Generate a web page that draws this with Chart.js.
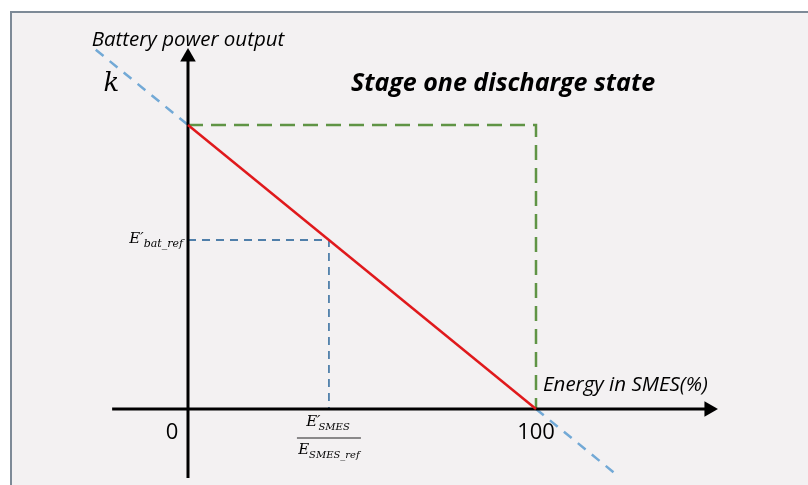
<!DOCTYPE html>
<html>
<head>
<meta charset="utf-8">
<script src="https://cdn.jsdelivr.net/npm/chart.js@4"></script>
<style>
  html, body { margin: 0; padding: 0; background: #ffffff; }
  canvas { display: block; }
</style>
</head>
<body>
<canvas id="myChart" width="808" height="485"></canvas>
<script>
// line from full battery power down to 100 % SMES energy
const energyPct = [0, 100];
const batteryPower = [100, 0];

// green dashed limit box
const boxX = [0, 100, 100];
const boxY = [100, 100, 0];

// blue dashed reference point on the red line
const refX = [0, 40.5, 40.5];
const refY = [59.5, 59.5, 0];

// slope k, drawn outside the axes
const kUpperX = [-26.5, 0];
const kUpperY = [126.5, 100];
const kLowerX = [100, 123.5];
const kLowerY = [0, -23.5];

// axes with arrow heads
const xAxisX = [-21.8, 149.7];
const yAxisY = [-24.3, 123.9];

const tickValues = [0, 100];
const tickLabels = ["0", "100"];

function pts(xs, ys) {
  return xs.map((x, i) => ({ x: x, y: ys[i] }));
}

const ctx = document.getElementById("myChart").getContext("2d");

const decor = {
  id: "decor",
  beforeDraw(chart) {
    const c = chart.ctx;
    c.save();
    c.fillStyle = "#ffffff";
    c.fillRect(0, 0, 808, 485);
    c.fillStyle = "#f3f1f2";
    c.fillRect(11, 12, 797, 473);
    c.strokeStyle = "#7d8a97";
    c.lineWidth = 2;
    c.beginPath();
    c.moveTo(11, 485);
    c.lineTo(11, 12);
    c.lineTo(808, 12);
    c.stroke();
    c.restore();
  },
  afterDatasetsDraw(chart) {
    const c = chart.ctx;
    const xs = chart.scales.x;
    const ys = chart.scales.y;
    c.save();
    c.fillStyle = "#000000";
    c.textBaseline = "middle";

    c.textAlign = "center";
    c.font = "italic 20.5px 'Open Sans'";
    c.fillText("Battery power output", xs.getPixelForValue(0), 40);

    c.font = "italic 26px 'DejaVu Serif'";
    c.fillText("k", xs.getPixelForValue(-22), 84);

    c.font = "italic bold 25px 'Open Sans'";
    c.fillText("Stage one discharge state", 503, 84);

    c.font = "22px 'Open Sans'";
    tickValues.forEach((v, i) => {
      const off = v === 0 ? -16 : 0;
      c.fillText(tickLabels[i], xs.getPixelForValue(v) + off, ys.getPixelForValue(0) + 24);
    });

    c.textAlign = "left";
    c.font = "italic 20.5px 'Open Sans'";
    c.fillText("Energy in SMES(%)", xs.getPixelForValue(100) + 7, ys.getPixelForValue(0) - 24);

    // E'_bat_ref label
    const by = ys.getPixelForValue(refY[0]);
    c.textAlign = "right";
    c.font = "italic 11px 'DejaVu Serif'";
    c.fillText("bat_ref", 183, by + 4);
    const subW = c.measureText("bat_ref").width;
    c.font = "italic 15px 'DejaVu Serif'";
    c.fillText("E\u2032", 183 - subW, by - 1);

    // fraction under the axis
    const fx = xs.getPixelForValue(refX[1]);
    c.textAlign = "left";
    c.font = "italic 15px 'DejaVu Serif'";
    const eW = c.measureText("E\u2032").width;
    c.font = "italic 10px 'DejaVu Serif'";
    const sW = c.measureText("SMES").width;
    let left = fx - (eW + sW) / 2;
    c.font = "italic 15px 'DejaVu Serif'";
    c.fillText("E\u2032", left, 422);
    c.font = "italic 10px 'DejaVu Serif'";
    c.fillText("SMES", left + eW - 2, 427);

    c.font = "italic 15px 'DejaVu Serif'";
    const e2W = c.measureText("E").width;
    c.font = "italic 10px 'DejaVu Serif'";
    const s2W = c.measureText("SMES_ref").width;
    left = fx - (e2W + s2W) / 2;
    c.font = "italic 15px 'DejaVu Serif'";
    c.fillText("E", left, 450);
    c.font = "italic 10px 'DejaVu Serif'";
    c.fillText("SMES_ref", left + e2W, 455);

    c.strokeStyle = "#222222";
    c.lineWidth = 1.2;
    c.beginPath();
    c.moveTo(fx - 32, 438);
    c.lineTo(fx + 32, 438);
    c.stroke();
    c.restore();
  }
};

new Chart(ctx, {
  type: "line",
  data: {
    datasets: [
      {
        label: "Battery power",
        data: pts(energyPct, batteryPower),
        borderColor: "#e0191c",
        borderWidth: 2.5,
        pointRadius: 0,
        order: 0,
      },
      {
        label: "x axis",
        data: pts(xAxisX, [0, 0]),
        borderColor: "#000000",
        backgroundColor: "#000000",
        borderWidth: 3,
        pointRadius: [0, 9],
        pointStyle: "triangle",
        rotation: 90,
        pointBorderWidth: 0,
        order: 1,
      },
      {
        label: "y axis",
        data: pts([0, 0], yAxisY),
        borderColor: "#000000",
        backgroundColor: "#000000",
        borderWidth: 3,
        pointRadius: [0, 9],
        pointStyle: "triangle",
        rotation: 0,
        pointBorderWidth: 0,
        order: 1,
      },
      {
        label: "limit",
        data: pts(boxX, boxY),
        borderColor: "#5f9445",
        borderWidth: 2.5,
        borderDash: [15, 8],
        pointRadius: 0,
        order: 2,
      },
      {
        label: "reference",
        data: pts(refX, refY),
        borderColor: "#4f7faa",
        borderWidth: 1.8,
        borderDash: [8, 6],
        pointRadius: 0,
        order: 3,
      },
      {
        label: "k upper",
        data: pts(kUpperX, kUpperY),
        borderColor: "#72a9d6",
        borderWidth: 2.5,
        borderDash: [10, 8],
        pointRadius: 0,
        order: 4,
      },
      {
        label: "k lower",
        data: pts(kLowerX, kLowerY),
        borderColor: "#72a9d6",
        borderWidth: 2.5,
        borderDash: [10, 8],
        pointRadius: 0,
        order: 4,
      },
    ],
  },
  options: {
    responsive: false,
    animation: false,
    devicePixelRatio: 1,
    layout: { padding: 0, autoPadding: false },
    scales: {
      x: { type: "linear", min: -54.02, max: 178.16, display: false },
      y: { type: "linear", min: -26.76, max: 144.01, display: false },
    },
    plugins: {
      legend: { display: false },
      tooltip: { enabled: false },
    },
  },
  plugins: [decor],
});
</script>
</body>
</html>
